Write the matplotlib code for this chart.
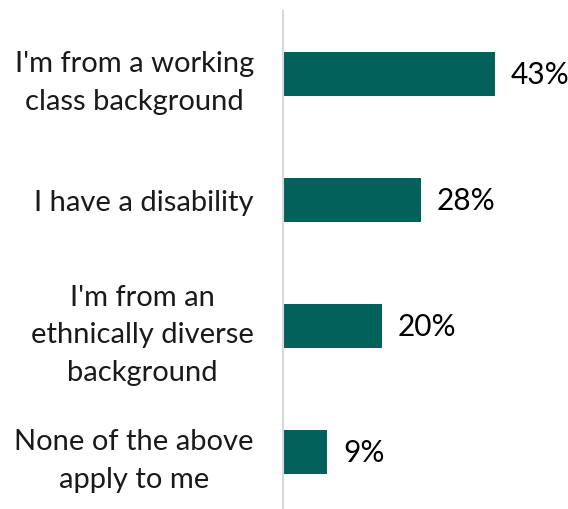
import matplotlib.pyplot as plt

categories = ["I'm from a working\nclass background",
              "I have a disability",
              "I'm from an\nethnically diverse\nbackground",
              "None of the above\napply to me"]
values = [43, 28, 20, 9]
labels = ["43%", "28%", "20%", "9%"]

plt.rcParams['font.family'] = ['Lato', 'DejaVu Sans']

fig = plt.figure(figsize=(5.68, 5.1), dpi=100)
ax = fig.add_axes([283 / 568, -6 / 510, 277 / 568, 504 / 510])

pos = list(range(len(categories)))
ax.barh(pos, values, height=0.35, color='#02615B')
ax.set_ylim(3.5, -0.5)
ax.set_xlim(0, 277 / 4.93)

for p, v, t in zip(pos, values, labels):
    ax.text(v + 3.2, p, t, va='center', ha='left', fontsize=21.5, color='black')

ax.set_yticks(pos)
ax.set_yticklabels(categories, fontsize=21, multialignment='center',
                   linespacing=1.55, color='#1a1a1a')
ax.tick_params(axis='y', length=0, pad=21)
ax.set_xticks([])
for s in ['top', 'right', 'bottom']:
    ax.spines[s].set_visible(False)
ax.spines['left'].set_color('#d9d9d9')
ax.spines['left'].set_linewidth(1.5)

fig.savefig('out.png', dpi=100)
